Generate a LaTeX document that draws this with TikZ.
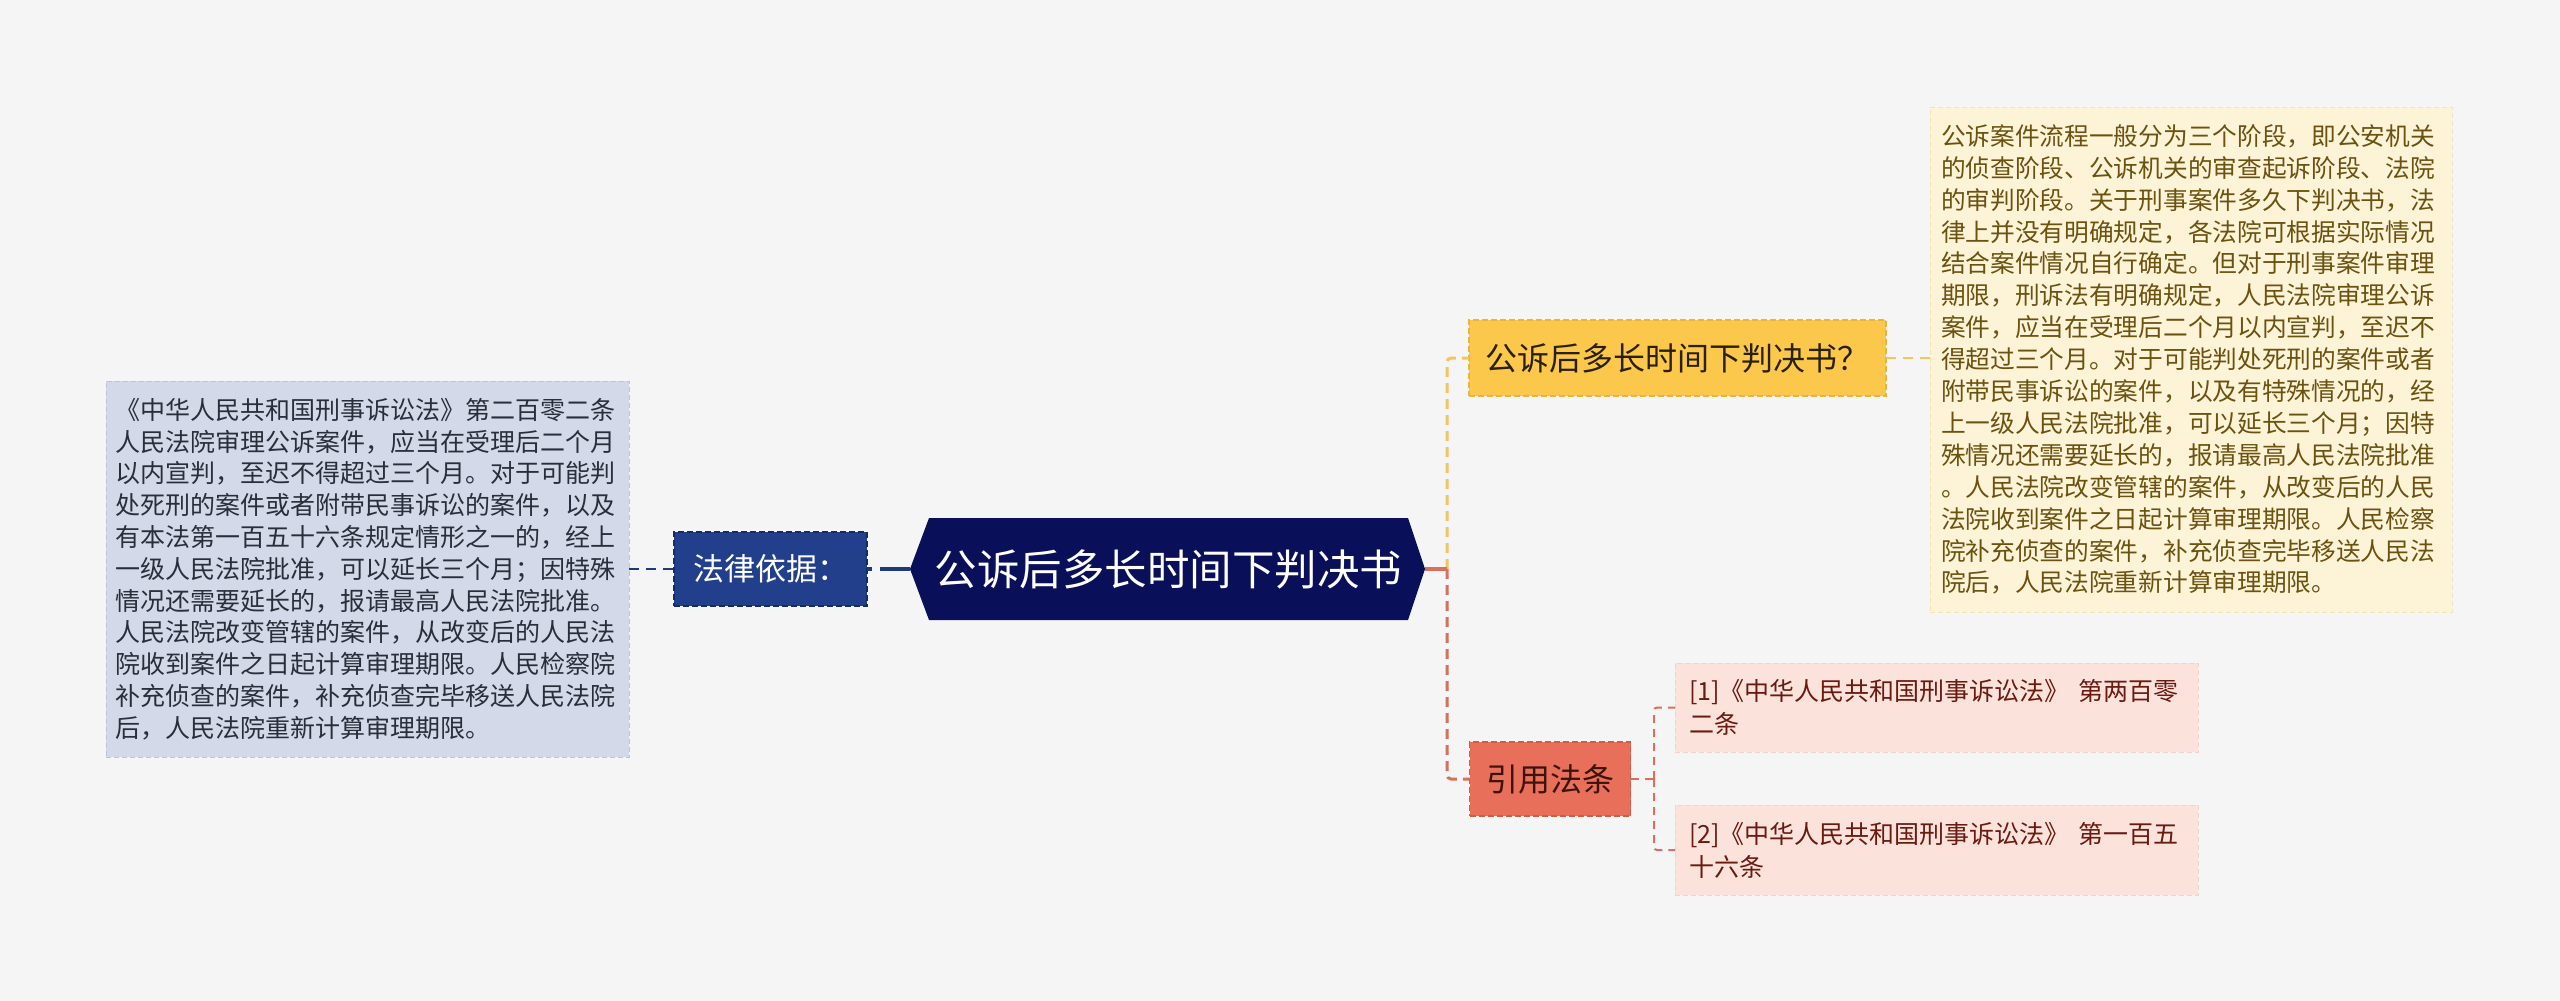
\documentclass[tikz,border=0pt]{standalone}
\usepackage{fontspec}
\setmainfont{Noto Sans CJK SC}
\usetikzlibrary{backgrounds}
\newcommand\myfs[2]{\fontsize{#1}{#2}\selectfont}
\definecolor{bgc}{HTML}{F5F5F5}
\definecolor{navyc}{HTML}{0A0F5A}
\definecolor{lawfill}{HTML}{223F8B}
\definecolor{lawdraw}{HTML}{142B66}
\definecolor{bluec}{HTML}{1F3A7A}
\definecolor{ltfill}{HTML}{D3D9E9}
\definecolor{ltdraw}{HTML}{BAC3DA}
\definecolor{lttext}{HTML}{2A2E3A}
\definecolor{qfill}{HTML}{FBC84C}
\definecolor{qdraw}{HTML}{E9B53C}
\definecolor{qtext}{HTML}{2A2008}
\definecolor{yellowc}{HTML}{F5C55C}
\definecolor{rtfill}{HTML}{FDF3D7}
\definecolor{rtdraw}{HTML}{F3E4B8}
\definecolor{rttext}{HTML}{6B5210}
\definecolor{reffill}{HTML}{E8705A}
\definecolor{refdraw}{HTML}{D35C47}
\definecolor{reftext}{HTML}{3D130B}
\definecolor{redc}{HTML}{D9705A}
\definecolor{rbfill}{HTML}{FBE3DC}
\definecolor{rbdraw}{HTML}{F3D2C9}
\definecolor{rbtext}{HTML}{6B1A10}
\begin{document}
\begin{tikzpicture}[x=1pt,y=-1pt,
  box/.style={rectangle, inner ysep=0pt, outer sep=0pt},
  textbox/.style={box, align=left, dashed, line width=1pt, dash pattern=on 5pt off 3pt},
  topicbox/.style={box, dashed, line width=1.2pt, dash pattern=on 6pt off 3pt},
  bluethick/.style={draw=bluec, line width=4pt, dash pattern=on 5pt off 8pt on 60pt off 0pt},
  bluedash/.style={draw=bluec, line width=2pt, dash pattern=on 10pt off 7pt},
  yellowdash/.style={draw=yellowc, line width=3pt, dash pattern=on 10pt off 6pt, rounded corners=4pt},
  yellowthin/.style={draw=yellowc, line width=2pt, dash pattern=on 10pt off 7pt},
  redsolid/.style={draw=redc, line width=4pt},
  reddash/.style={draw=redc, line width=3pt, dash pattern=on 10pt off 6pt, rounded corners=4pt},
  redthin/.style={draw=redc, line width=2pt, dash pattern=on 8pt off 6pt, rounded corners=3pt}
]
\begin{scope}[on background layer]
\fill[bgc] (0,0) rectangle (2560,1001);
\end{scope}
\useasboundingbox (0,0) rectangle (2560,1001);

% left text box
\node[textbox, fill=ltfill, draw=ltdraw, text=lttext, font=\myfs{25}{31.8},
  text width=505pt, inner xsep=9pt, minimum height=376pt] (lt) at (367.5,569)
{《中华人民共和国刑事诉讼法》第二百零二条\\
人民法院审理公诉案件，应当在受理后二个月\\
以内宣判，至迟不得超过三个月。对于可能判\\
处死刑的案件或者附带民事诉讼的案件，以及\\
有本法第一百五十六条规定情形之一的，经上\\
一级人民法院批准，可以延长三个月；因特殊\\
情况还需要延长的，报请最高人民法院批准。\\
人民法院改变管辖的案件，从改变后的人民法\\
院收到案件之日起计算审理期限。人民检察院\\
补充侦查的案件，补充侦查完毕移送人民法院\\
后，人民法院重新计算审理期限。};

% law node
\node[topicbox, fill=lawfill, draw=lawdraw, text=white, font=\myfs{31}{36},
  minimum width=193pt, minimum height=74pt] (law) at (770.5,569) {法律依据：};

% central node
\node[box, text=white, font=\myfs{42.5}{48}, minimum width=479pt, minimum height=102pt] (c) at (1168.5,569) {公诉后多长时间下判决书};
\coordinate (cL) at ([xshift=-19pt]c.west);
\coordinate (cR) at ([xshift=17pt]c.east);
\begin{scope}[on background layer]
\fill[navyc] (c.north west) -- (cL) -- (c.south west) -- (c.south east) -- (cR) -- (c.north east) -- cycle;
\end{scope}

% question node
\node[topicbox, fill=qfill, draw=qdraw, text=qtext, font=\myfs{32}{36},
  minimum width=417pt, minimum height=76pt] (q) at (1677.5,358) {公诉后多长时间下判决书？};

% right text box
\node[textbox, fill=rtfill, draw=rtdraw, text=rttext, font=\myfs{24.7}{31.9},
  text width=500pt, inner xsep=11pt, minimum height=505pt] (rt) at (2191,359.5)
{公诉案件流程一般分为三个阶段，即公安机关\\
的侦查阶段、公诉机关的审查起诉阶段、法院\\
的审判阶段。关于刑事案件多久下判决书，法\\
律上并没有明确规定，各法院可根据实际情况\\
结合案件情况自行确定。但对于刑事案件审理\\
期限，刑诉法有明确规定，人民法院审理公诉\\
案件，应当在受理后二个月以内宣判，至迟不\\
得超过三个月。对于可能判处死刑的案件或者\\
附带民事诉讼的案件，以及有特殊情况的，经\\
上一级人民法院批准，可以延长三个月；因特\\
殊情况还需要延长的，报请最高人民法院批准\\
。人民法院改变管辖的案件，从改变后的人民\\
法院收到案件之日起计算审理期限。人民检察\\
院补充侦查的案件，补充侦查完毕移送人民法\\
院后，人民法院重新计算审理期限。};

% ref node
\node[topicbox, fill=reffill, draw=refdraw, text=reftext, font=\myfs{32}{36},
  minimum width=161pt, minimum height=74pt] (ref) at (1550,779) {引用法条};

% ref boxes
\node[textbox, fill=rbfill, draw=rbdraw, text=rbtext, font=\myfs{25}{33},
  text width=495pt, inner xsep=14pt, minimum height=89pt] (r1) at (1936.5,707.5)
{[1]《中华人民共和国刑事诉讼法》 第两百零\\二条};
\node[textbox, fill=rbfill, draw=rbdraw, text=rbtext, font=\myfs{25}{33},
  text width=495pt, inner xsep=14pt, minimum height=90pt] (r2) at (1936.5,850)
{[2]《中华人民共和国刑事诉讼法》 第一百五\\十六条};

% connectors
\coordinate (jn) at (1447,569);
\coordinate (jr) at (1654,779);
\draw[bluedash] (lt.east) -- (law.west);
\draw[bluethick] (law.east) -- (cL);
\draw[yellowdash] (jn) |- (q.west);
\draw[reddash] (jn) |- (ref.west);
\draw[redsolid] (cR) -- (jn);
\draw[yellowthin] (q.east) -- (rt.west |- q.east);
\draw[redthin] (ref.east) -- (jr);
\draw[redthin] (jr) |- (r1.west);
\draw[redthin] (jr) |- (r2.west);
\end{tikzpicture}
\end{document}
